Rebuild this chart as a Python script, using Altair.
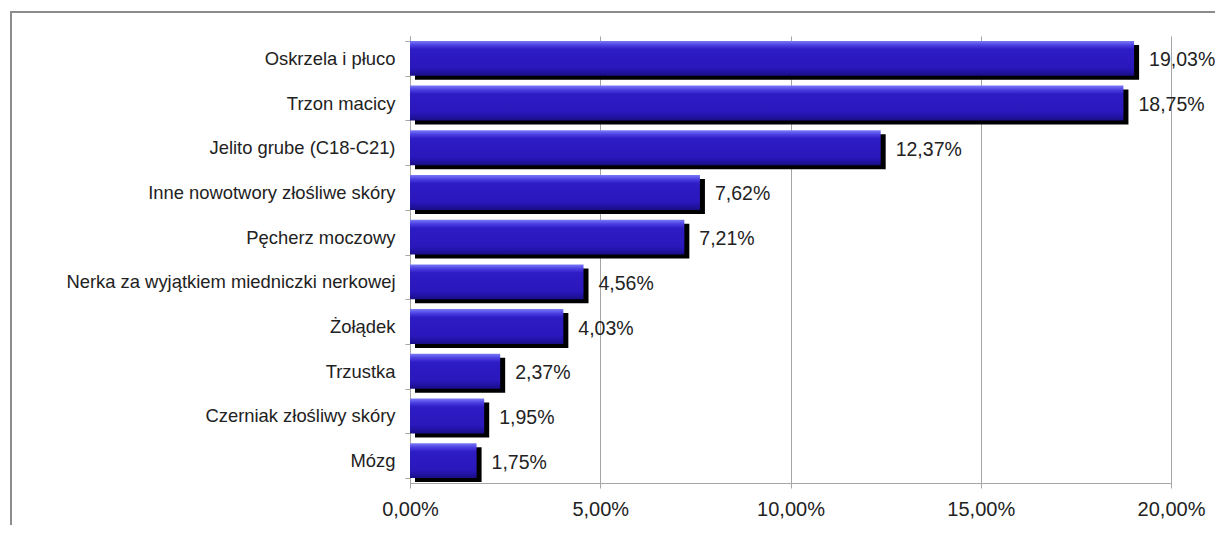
import altair as alt
import pandas as pd

categories = [
    "Oskrzela i płuco",
    "Trzon macicy",
    "Jelito grube (C18-C21)",
    "Inne nowotwory złośliwe skóry",
    "Pęcherz moczowy",
    "Nerka za wyjątkiem miedniczki nerkowej",
    "Żołądek",
    "Trzustka",
    "Czerniak złośliwy skóry",
    "Mózg",
]
values = [19.03, 18.75, 12.37, 7.62, 7.21, 4.56, 4.03, 2.37, 1.95, 1.75]
x_ticks = [0, 5, 10, 15, 20]

df = pd.DataFrame({"cat": categories, "val": values})

FONT = "Liberation Sans"
GRID = "#a6a6a6"

y_enc = alt.Y(
    "cat:N",
    sort=categories,
    title=None,
    scale=alt.Scale(paddingInner=0.22, paddingOuter=0.11),
    axis=alt.Axis(
        tickBand="extent",
        labelFontSize=18.4,
        labelFont=FONT,
        labelColor="#222222",
        labelPadding=10,
        tickSize=5,
        tickColor=GRID,
        domainColor=GRID,
        grid=False,
        labelLimit=420,
    ),
)
x_enc = alt.X(
    "val:Q",
    scale=alt.Scale(domain=[0, 20], nice=False, zero=True),
    title=None,
    axis=alt.Axis(
        values=x_ticks,
        labelExpr="replace(format(datum.value/100,'.2%'),'.',',')",
        labelFlush=False,
        grid=True,
        gridColor=GRID,
        gridWidth=1,
        tickColor=GRID,
        tickSize=5,
        domainColor=GRID,
        labelFontSize=20,
        labelFont=FONT,
        labelColor="#222222",
        labelPadding=11,
    ),
)

base = alt.Chart(df).encode(x=x_enc, y=y_enc)

shadow = base.mark_bar(color="#000000", xOffset=5, x2Offset=5, yOffset=4, y2Offset=4)

grad = alt.Gradient(
    gradient="linear",
    x1=0, x2=0, y1=0, y2=1,
    stops=[
        alt.GradientStop(color="#7a7af6", offset=0.0),
        alt.GradientStop(color="#4c40e2", offset=0.12),
        alt.GradientStop(color="#2e1cc4", offset=0.24),
        alt.GradientStop(color="#2a18bc", offset=0.76),
        alt.GradientStop(color="#2213a6", offset=0.88),
        alt.GradientStop(color="#190e84", offset=1.0),
    ],
)
bars = base.mark_bar(color=grad)

labels = base.transform_calculate(
    label="replace(format(datum.val/100,'.2%'),'.',',')"
).mark_text(
    align="left", baseline="middle", dx=15, dy=2,
    fontSize=19.5, font=FONT, color="#222222",
).encode(text="label:N")

frame_df = pd.DataFrame({"k": [0]})
left_border = alt.Chart(frame_df).mark_rule(color="#8c8c8c", strokeWidth=2).encode(
    x=alt.value(-399), y=alt.value(-25), y2=alt.value(560)
)
top_border = alt.Chart(frame_df).mark_rule(color="#8c8c8c", strokeWidth=2).encode(
    x=alt.value(-400), x2=alt.value(900), y=alt.value(-24)
)

chart = alt.layer(shadow, bars, labels, left_border, top_border).properties(
    width=761,
    height=447,
    autosize=alt.AutoSizeParams(type="none"),
    padding={"left": 402, "top": 28, "right": 44, "bottom": 42},
    background="white",
).configure_view(stroke=None)

chart.save("out.html", embed_options={"renderer": "svg", "actions": False})
